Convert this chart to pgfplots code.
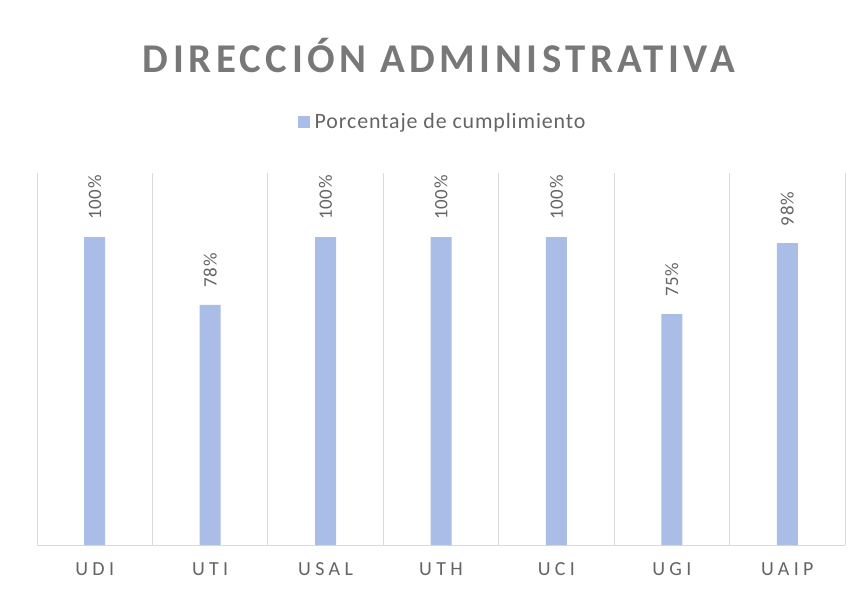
\documentclass[border=0pt]{standalone}
\usepackage{pgfplots}
\pgfplotsset{compat=1.18}
\usepackage{fontspec}
\setmainfont{Carlito}
\newfontfamily\spaced[LetterSpace=22]{Carlito}
\newfontfamily\legfont[LetterSpace=4]{Carlito}
\newfontfamily\valfont[LetterSpace=4]{Carlito}
\newfontfamily\titlefont[LetterSpace=11]{Carlito}
\definecolor{barblue}{HTML}{A9BDE6}
\definecolor{txtgray}{HTML}{646464}
\definecolor{titlegray}{HTML}{787878}
\definecolor{gridgray}{HTML}{D9D9D9}
\begin{document}
\begin{tikzpicture}
\path[use as bounding box] (-37bp,-52bp) rectangle (824bp,545bp);
\node[text=titlegray, font=\titlefont\bfseries\fontsize{41}{44}\selectfont, inner sep=0] at (402bp,490bp) {DIRECCIÓN ADMINISTRATIVA};
\begin{axis}[
  at={(0,0)}, anchor=south west,
  scale only axis, width=808bp, height=372bp,
  ybar, bar width=21bp,
  xmin=-0.5, xmax=6.5, ymin=0, ymax=120.8,
  axis y line=none,
  axis x line*=bottom,
  x axis line style={gridgray, line width=1bp, -},
  xtick={0,1,2,3,4,5,6},
  xticklabels={UDI,UTI,USAL,UTH,UCI,UGI,UAIP},
  xticklabel style={text=txtgray, font=\spaced\fontsize{20}{22}\selectfont, yshift=-14bp},
  minor xtick={-0.5,0.5,...,6.5},
  xminorgrids, minor grid style={gridgray, line width=0.8bp},
  major tick length=0, minor tick length=0,
  point meta=explicit symbolic,
  nodes near coords,
  every node near coord/.append style={rotate=90, anchor=west, inner xsep=17bp, inner ysep=0, text=txtgray, font=\valfont\fontsize{19}{21}\selectfont},
  legend style={at={(0.502,1.137)}, anchor=center, draw=none, fill=none, font=\legfont\fontsize{22}{24}\selectfont, text=txtgray},
  legend image code/.code={\fill[barblue] (0bp,-6bp) rectangle (12bp,6bp);},
]
\addplot[fill=barblue, draw=none] coordinates {
  (0,100) [100\%]
  (1,78) [78\%]
  (2,100) [100\%]
  (3,100) [100\%]
  (4,100) [100\%]
  (5,75) [75\%]
  (6,98) [98\%]
};
\addlegendentry{\hspace{3bp}Porcentaje de cumplimiento}
\end{axis}
\end{tikzpicture}
\end{document}
